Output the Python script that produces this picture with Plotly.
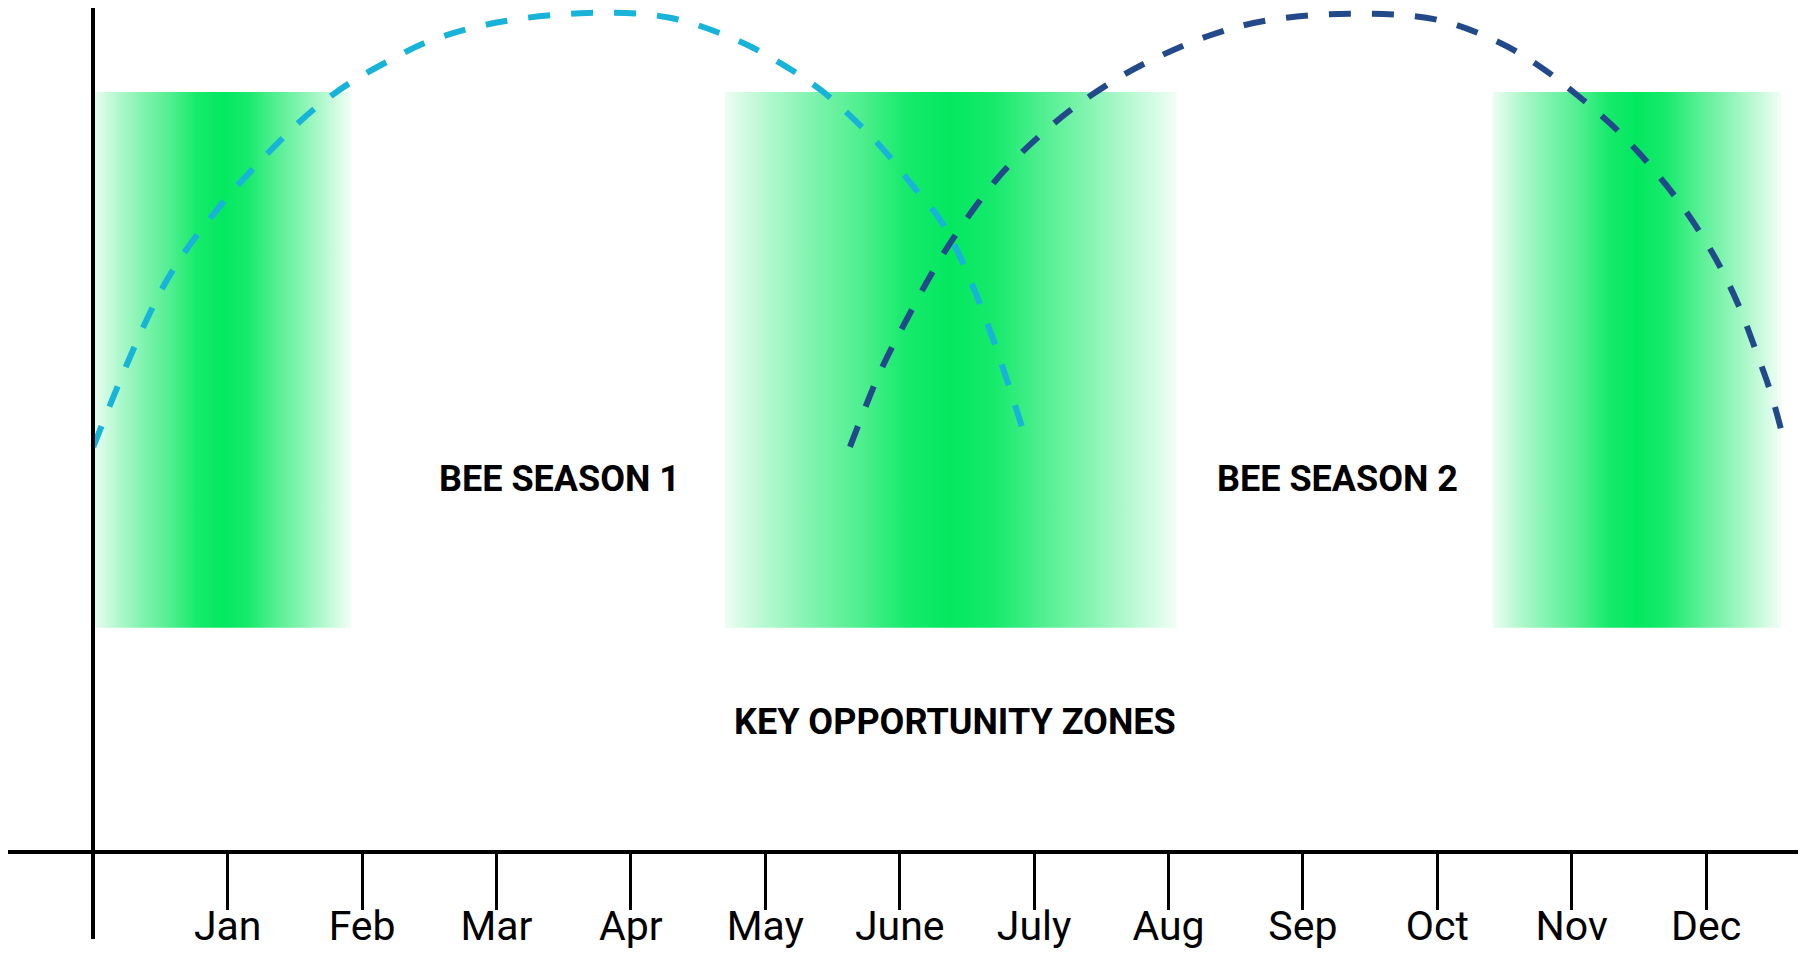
import plotly.graph_objects as go

# ---- data ----
months = ["Jan", "Feb", "Mar", "Apr", "May", "June", "July", "Aug", "Sep", "Oct", "Nov", "Dec"]
month_pos = [1, 2, 3, 4, 5, 6, 7, 8, 9, 10, 11, 12]

season1_x = [0.00, 0.53, 0.92, 1.39, 1.66, 1.91, 2.21, 2.50, 2.99, 3.68, 4.28, 4.79, 5.13,
             5.41, 5.66, 5.88, 6.10, 6.30, 6.45, 6.68, 6.93]
season1_y = [53.3, 74.7, 84.5, 93.6, 98.0, 101.2, 104.2, 106.7, 109.1, 110.4, 109.8, 106.8, 103.6,
             100.3, 96.4, 92.4, 87.6, 83.2, 78.3, 68.2, 54.8]

season2_x = [5.63, 5.85, 6.05, 6.30, 6.55, 6.77, 6.99, 7.27, 7.54, 7.84, 8.30, 8.73, 9.35,
             10.00, 10.45, 10.76, 11.04, 11.29, 11.51, 11.71, 11.90, 12.08, 12.24, 12.38, 12.48, 12.57]
season2_y = [53.3, 63.0, 70.0, 78.0, 84.6, 89.5, 93.4, 97.6, 100.9, 103.9, 107.4, 109.4, 110.3,
             109.5, 106.6, 103.4, 99.6, 95.8, 91.8, 87.6, 83.0, 77.8, 72.0, 65.5, 60.5, 54.8]

zone_start = [0.0, 4.70, 10.41]
zone_end = [1.92, 8.06, 12.56]
zone_low = 29.5
zone_high = 100.0

labels = ["BEE SEASON 1", "BEE SEASON 2", "KEY OPPORTUNITY ZONES"]

# ---- styling ----
GREEN = (3, 232, 95)


def mix(a):
    r = round(255 - a * (255 - GREEN[0]))
    g = round(255 - a * (255 - GREEN[1]))
    b = round(255 - a * (255 - GREEN[2]))
    return f"rgb({r},{g},{b})"


grad = [[0.0, mix(0.07)], [0.1, mix(0.32)], [0.2, mix(0.52)], [0.3, mix(0.70)],
        [0.4, mix(0.92)], [0.5, mix(1.0)], [0.6, mix(0.92)], [0.7, mix(0.70)],
        [0.8, mix(0.50)], [0.9, mix(0.28)], [1.0, mix(0.05)]]

fig = go.Figure()

for x0, x1 in zip(zone_start, zone_end):
    fig.add_trace(go.Scatter(
        x=[x0, x1, x1, x0, x0], y=[zone_low, zone_low, zone_high, zone_high, zone_low],
        mode="lines", line=dict(width=0), fill="toself",
        fillgradient=dict(type="horizontal", colorscale=grad, start=x0, stop=x1),
        hoverinfo="skip", showlegend=False))

fig.add_trace(go.Scatter(x=season1_x, y=season1_y, mode="lines",
                         line=dict(color="#17B3D9", width=6, dash="22px,21px", shape="spline"),
                         showlegend=False))
fig.add_trace(go.Scatter(x=season2_x, y=season2_y, mode="lines",
                         line=dict(color="#224A8A", width=6, dash="22px,21px", shape="spline"),
                         showlegend=False))

bold_font = dict(family="Roboto, Liberation Sans, sans-serif", size=36, color="black", weight="bold")
for txt, (ax, ay) in zip(labels, [(3.47, 49.1), (9.26, 49.1), (6.41, 17.1)]):
    fig.add_annotation(x=ax, y=ay, text=txt, showarrow=False, font=bold_font,
                       xanchor="center", yanchor="middle")

# The page body adds an 8px margin, so the figure is 16px smaller than the window.
W, H = 1790, 943
fig.update_layout(
    template="none",
    width=W, height=H, margin=dict(l=0, r=0, t=0, b=0, autoexpand=False),
    plot_bgcolor="white", paper_bgcolor="white", showlegend=False,
    xaxis=dict(domain=[0, 1], range=[-0.635, 12.684], automargin=False,
               anchor="free", position=(H - 844) / H,
               showline=True, linecolor="black", linewidth=4,
               ticks="outside", ticklen=56, tickwidth=3, tickcolor="black",
               tickvals=month_pos, ticktext=months, ticklabelstandoff=-19,
               tickfont=dict(family="Roboto, Liberation Sans, sans-serif", size=41, color="black"),
               showgrid=False, zeroline=False, fixedrange=True),
    yaxis=dict(domain=[(H - 931) / H, 1.0], range=[-11.45, 111.05], automargin=False,
               anchor="free", position=85.3 / W,
               showline=True, linecolor="black", linewidth=4,
               showticklabels=False, ticks="",
               showgrid=False, zeroline=False, fixedrange=True),
)

fig.write_html("out.html")
